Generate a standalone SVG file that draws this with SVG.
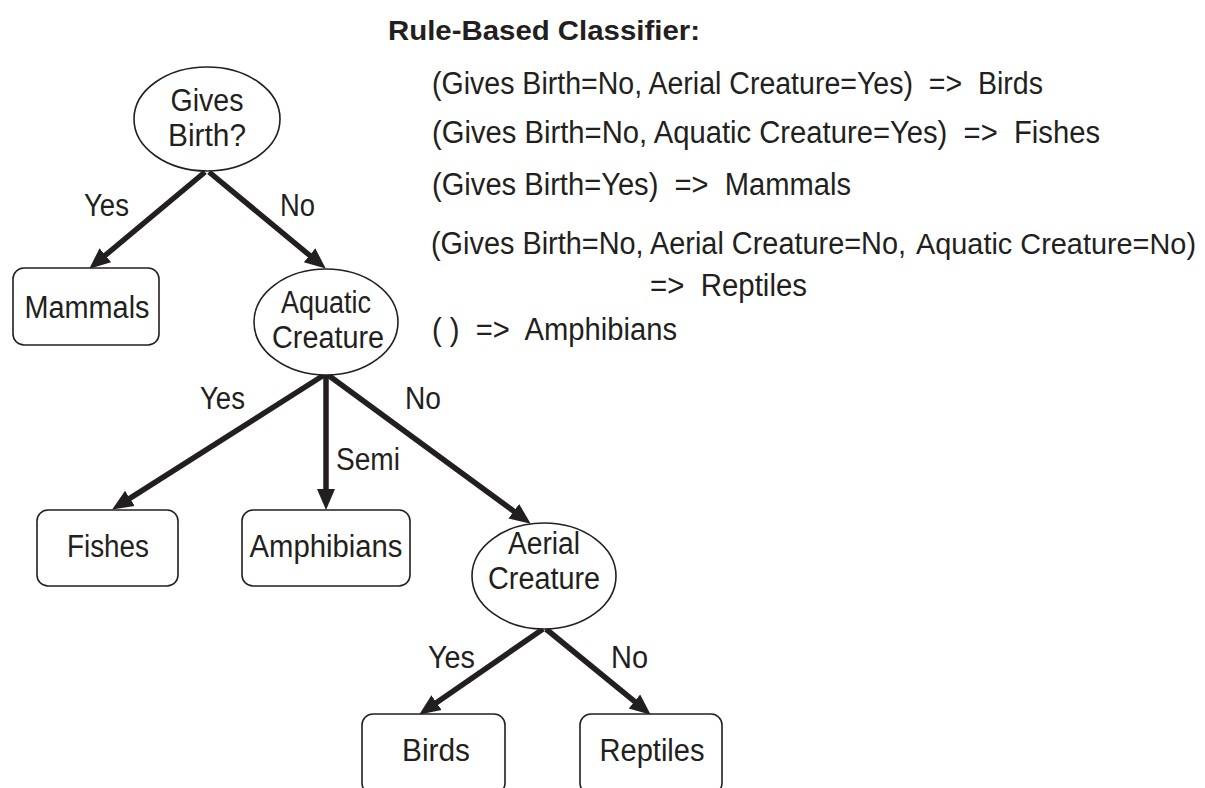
<svg xmlns="http://www.w3.org/2000/svg" width="1205" height="788" viewBox="0 0 1205 788">
<style>
text{font-family:"Liberation Sans",Arial,sans-serif;font-size:31px;fill:#231f20}
.c{text-anchor:middle}
.title{font-weight:bold;font-size:28px}
.node{fill:#fff;stroke:#231f20;stroke-width:1.6}
.edge{stroke:#231f20;stroke-width:5.5;fill:none}
</style>
<defs>
<marker id="ah" markerUnits="userSpaceOnUse" markerWidth="24" markerHeight="22" viewBox="0 -11 24 22" refX="2" refY="0" orient="auto">
<path d="M0,-9 L21,0 L0,9 Z" fill="#231f20"/>
</marker>
</defs>
<rect width="1205" height="788" fill="#fff"/>

<g id="connectors">
<line class="edge" x1="205" y1="172" x2="103.8" y2="256.5" marker-end="url(#ah)"/>
<line class="edge" x1="209" y1="172" x2="311.1" y2="256.5" marker-end="url(#ah)"/>
<line class="edge" x1="324" y1="375" x2="128.2" y2="499.4" marker-end="url(#ah)"/>
<line class="edge" x1="326" y1="375" x2="326" y2="491" marker-end="url(#ah)"/>
<line class="edge" x1="328" y1="375" x2="515.4" y2="512.4" marker-end="url(#ah)"/>
<line class="edge" x1="543" y1="629" x2="434.9" y2="703.8" marker-end="url(#ah)"/>
<line class="edge" x1="546" y1="629" x2="636" y2="702.7" marker-end="url(#ah)"/>
<text x="84" y="216" textLength="45" lengthAdjust="spacingAndGlyphs">Yes</text>
<text x="280" y="216" textLength="35" lengthAdjust="spacingAndGlyphs">No</text>
<text x="200" y="409" textLength="45" lengthAdjust="spacingAndGlyphs">Yes</text>
<text x="405" y="409" textLength="36" lengthAdjust="spacingAndGlyphs">No</text>
<text x="336" y="470" textLength="64" lengthAdjust="spacingAndGlyphs">Semi</text>
<text x="428" y="668" textLength="47" lengthAdjust="spacingAndGlyphs">Yes</text>
<text x="611" y="668" textLength="37" lengthAdjust="spacingAndGlyphs">No</text>
</g>

<g id="gives-birth">
<ellipse class="node" cx="207" cy="119" rx="73" ry="52"/>
<text class="c" x="207" y="111" textLength="73" lengthAdjust="spacingAndGlyphs">Gives</text>
<text class="c" x="207" y="146" textLength="78" lengthAdjust="spacingAndGlyphs">Birth?</text>
</g>
<g id="mammals">
<rect class="node" x="13" y="268" width="146" height="77" rx="11"/>
<text class="c" x="87" y="318" textLength="125" lengthAdjust="spacingAndGlyphs">Mammals</text>
</g>
<g id="aquatic">
<ellipse class="node" cx="326" cy="322" rx="72" ry="53"/>
<text class="c" x="326" y="313" textLength="90" lengthAdjust="spacingAndGlyphs">Aquatic</text>
<text class="c" x="328" y="348" textLength="112" lengthAdjust="spacingAndGlyphs">Creature</text>
</g>
<g id="fishes">
<rect class="node" x="37" y="510" width="141" height="76" rx="11"/>
<text class="c" x="108" y="557" textLength="82" lengthAdjust="spacingAndGlyphs">Fishes</text>
</g>
<g id="amphibians">
<rect class="node" x="242" y="510" width="168" height="76" rx="11"/>
<text class="c" x="326" y="557" textLength="153" lengthAdjust="spacingAndGlyphs">Amphibians</text>
</g>
<g id="aerial">
<ellipse class="node" cx="544" cy="576" rx="72" ry="53"/>
<text class="c" x="544" y="554" textLength="72" lengthAdjust="spacingAndGlyphs">Aerial</text>
<text class="c" x="544" y="589" textLength="112" lengthAdjust="spacingAndGlyphs">Creature</text>
</g>
<g id="birds">
<rect class="node" x="362" y="714" width="143" height="80" rx="11"/>
<text class="c" x="436" y="761" textLength="68" lengthAdjust="spacingAndGlyphs">Birds</text>
</g>
<g id="reptiles">
<rect class="node" x="580" y="714" width="142" height="80" rx="11"/>
<text class="c" x="652" y="761" textLength="105" lengthAdjust="spacingAndGlyphs">Reptiles</text>
</g>

<g id="rules">
<text class="title" x="388" y="40" textLength="312" lengthAdjust="spacingAndGlyphs">Rule-Based Classifier:</text>
<text x="432" y="94" textLength="611" lengthAdjust="spacingAndGlyphs" xml:space="preserve">(Gives Birth=No, Aerial Creature=Yes)  =&gt;  Birds</text>
<text x="432" y="143" textLength="668" lengthAdjust="spacingAndGlyphs" xml:space="preserve">(Gives Birth=No, Aquatic Creature=Yes)  =&gt;  Fishes</text>
<text x="432" y="195" textLength="419" lengthAdjust="spacingAndGlyphs" xml:space="preserve">(Gives Birth=Yes)  =&gt;  Mammals</text>
<text x="431" y="254" textLength="475" lengthAdjust="spacingAndGlyphs">(Gives Birth=No, Aerial Creature=No,</text>
<text x="916" y="254" style="font-size:29px" textLength="280" lengthAdjust="spacingAndGlyphs">Aquatic Creature=No)</text>
<text x="650" y="296" textLength="157" lengthAdjust="spacingAndGlyphs" xml:space="preserve">=&gt;  Reptiles</text>
<text x="432" y="340" textLength="245" lengthAdjust="spacingAndGlyphs" xml:space="preserve">( )  =&gt;  Amphibians</text>
</g>
</svg>
